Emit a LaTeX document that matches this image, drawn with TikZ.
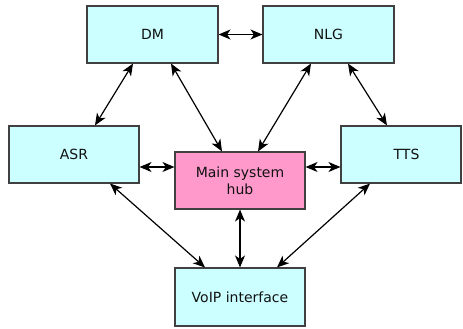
\documentclass[tikz,border=0pt]{standalone}
\usepackage{fontspec}
\setmainfont{DejaVu Sans}
\usetikzlibrary{arrows.meta}
\definecolor{boxcyan}{HTML}{CCFFFF}
\definecolor{boxpink}{HTML}{FF99CC}
\definecolor{edgegray}{HTML}{404040}
\definecolor{txt}{HTML}{111111}
\tikzset{
  modbox/.style={draw=edgegray, line width=1.1pt, fill=boxcyan, minimum width=131pt, minimum height=57pt, inner sep=0pt, text=txt, font=\fontsize{14}{17}\selectfont, align=center},
  hubbox/.style={modbox, fill=boxpink},
  link/.style={line width=1.2pt, {Stealth[length=12pt,width=10pt,inset=3.5pt]}-{Stealth[length=12pt,width=10pt,inset=3.5pt]}}
}
\begin{document}
\begin{tikzpicture}[x=1pt,y=-1pt]
\useasboundingbox (0,0) rectangle (463,329);
\node[modbox] (DM) at (152.5,34.5) {DM};
\node[modbox] (NLG) at (328.5,34.5) {NLG};
\node[modbox, minimum width=130pt] (ASR) at (74,154.5) {ASR};
\node[modbox, minimum width=120pt] (TTS) at (401,154.5) {\hspace*{11pt}TTS};
\node[hubbox, minimum width=130pt] (Hub) at (240,180.5) {Main system\\hub};
\node[modbox, minimum width=130pt, minimum height=58pt] (VoIP) at (240,297) {VoIP interface};

\draw[link] (DM.east) -- (NLG.west);
\draw[link] ([xshift=-19.5pt]DM.south) -- ([xshift=21pt]ASR.north);
\draw[link] ([xshift=18.5pt]DM.south) -- ([xshift=-18pt]Hub.north);
\draw[link] ([xshift=-17.5pt]NLG.south) -- ([xshift=18pt]Hub.north);
\draw[link] ([xshift=19.5pt]NLG.south) -- ([xshift=-14pt]TTS.north);
\draw[link] ([yshift=-12.5pt]ASR.east) -- ([yshift=13.5pt]Hub.west);
\draw[link] ([yshift=13.5pt]Hub.east) -- ([yshift=-12.5pt]TTS.west);
\draw[link] ([xshift=36pt]ASR.south) -- ([xshift=-35pt]VoIP.north);
\draw[link] (Hub.south) -- (VoIP.north);
\draw[link] ([xshift=-31pt]TTS.south) -- ([xshift=37pt]VoIP.north);
\end{tikzpicture}
\end{document}
